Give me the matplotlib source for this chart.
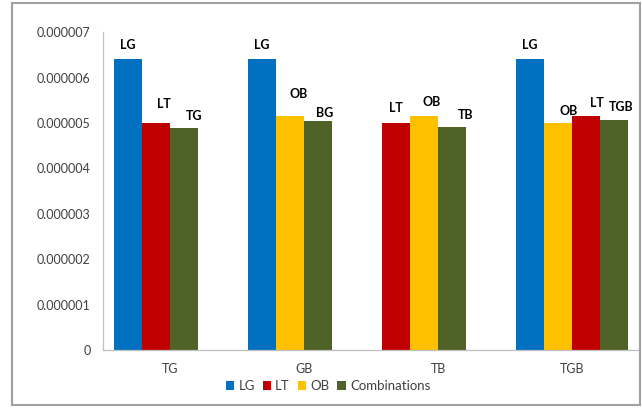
import matplotlib
matplotlib.use('Agg')
import matplotlib.pyplot as plt
from matplotlib.patches import Patch, Rectangle
from matplotlib.ticker import FuncFormatter

plt.rcParams['font.family'] = ['Lato', 'DejaVu Sans']

# Data
groups = ['TG', 'GB', 'TB', 'TGB']
series_names = ['LG', 'LT', 'OB', 'Combinations']
series_colors = ['#0070C0', '#C00000', '#FFC000', '#4F6228']

# bars of each group, left to right
group_series = [
    ['LG', 'LT', 'Combinations'],
    ['LG', 'OB', 'Combinations'],
    ['LT', 'OB', 'Combinations'],
    ['LG', 'OB', 'LT', 'Combinations'],
]
group_values = [
    [6.4e-6, 5.0e-6, 4.9e-6],
    [6.4e-6, 5.15e-6, 5.05e-6],
    [5.0e-6, 5.15e-6, 4.92e-6],
    [6.4e-6, 5.0e-6, 5.15e-6, 5.07e-6],
]
group_labels = [
    ['LG', 'LT', 'TG'],
    ['LG', 'OB', 'BG'],
    ['LT', 'OB', 'TB'],
    ['LG', 'OB', 'LT', 'TGB'],
]

# data labels were dragged by hand in the original, keep the nudges (pixels)
label_nudge = [
    [(0, 14), (8, 19), (10, 12)],
    [(0, 14), (9, 22), (6, 8)],
    [(0, 15), (8, 14), (14, 12)],
    [(0, 14), (11, 12), (11, 13), (7, 13)],
]

color_of = dict(zip(series_names, series_colors))
bar_w = 0.21

fig = plt.figure(figsize=(6.42, 4.08), dpi=100)
ax = fig.add_axes([0.161, 0.142, 0.834, 0.779])

for g, (names, vals, labs, nudges) in enumerate(zip(group_series, group_values, group_labels, label_nudge)):
    for i, (name, v, lab, (dx, dy)) in enumerate(zip(names, vals, labs, nudges)):
        x = g + (i - 1.5) * bar_w
        ax.bar(x, v, width=bar_w, color=color_of[name], edgecolor='none')
        ax.annotate(lab, xy=(x, v), xytext=(dx, dy), textcoords='offset pixels',
                    ha='center', va='center', fontsize=9, fontweight='bold', color='black')

ax.set_xlim(-0.5, 3.5)
ax.set_ylim(0, 7e-6)
ax.set_yticks([i * 1e-6 for i in range(8)])
ax.yaxis.set_major_formatter(FuncFormatter(lambda v, p: '0' if v == 0 else f'{v:.6f}'))
ax.set_xticks(range(len(groups)))
ax.set_xticklabels(groups)

ax.tick_params(axis='y', length=0, pad=9, labelsize=9, labelcolor='#404040')
ax.tick_params(axis='x', length=0, pad=9, labelsize=9, labelcolor='#404040')

for s in ['top', 'right']:
    ax.spines[s].set_visible(False)
for s in ['left', 'bottom']:
    ax.spines[s].set_color('#BFBFBF')
    ax.spines[s].set_linewidth(0.9)

handles = [Patch(facecolor=c, edgecolor='none', label=n) for n, c in zip(series_names, series_colors)]
leg = fig.legend(handles=handles, loc='center', bbox_to_anchor=(328 / 642, 1 - 386 / 408),
                 ncol=4, frameon=False, fontsize=9.5, handlelength=0.65, handleheight=0.65,
                 handletextpad=0.3, columnspacing=0.6, borderpad=0)
for t in leg.get_texts():
    t.set_color('#404040')

# outer chart border
fig.patches.append(Rectangle((12 / 642, 3 / 408), 628 / 642, 402 / 408, transform=fig.transFigure,
                             fill=False, edgecolor='#A0A0A0', linewidth=1.5))

fig.savefig('out.png', dpi=100)
